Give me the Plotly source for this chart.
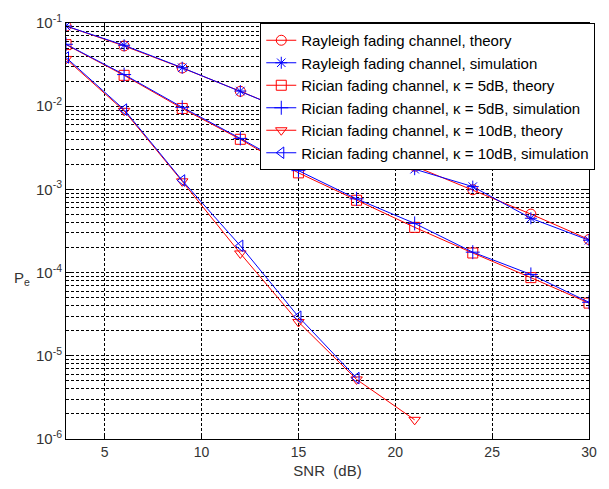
import plotly.graph_objects as go

snr = [3, 6, 9, 12, 15, 18, 21, 24, 27, 30]
snr10_th = [3, 6, 9, 12, 15, 18, 21]
snr10_sim = [3, 6, 9, 12, 15, 18]

ray_th = [0.0918, 0.0530, 0.0288, 0.0151, 0.00773, 0.00392, 0.00190, 0.00099, 0.000505, 0.000250]
ray_sim = [0.0920, 0.0540, 0.0290, 0.0152, 0.00780, 0.00395, 0.00175, 0.00108, 0.000450, 0.000245]
ric5_th = [0.0550, 0.0235, 0.0094, 0.0040, 0.00158, 0.00074, 0.00035, 0.000172, 0.000087, 0.000043]
ric5_sim = [0.0555, 0.0240, 0.0097, 0.0041, 0.00168, 0.00077, 0.00039, 0.000176, 0.000095, 0.000044]
ric10_th = [0.0370, 0.0088, 0.00125, 0.000170, 0.0000255, 0.0000052, 0.0000017]
ric10_sim = [0.0385, 0.0091, 0.00128, 0.000210, 0.0000295, 0.0000054]

names = [
    "Rayleigh fading channel, theory",
    "Rayleigh fading channel, simulation",
    "Rician fading channel, \u03ba = 5dB, theory",
    "Rician fading channel, \u03ba = 5dB, simulation",
    "Rician fading channel, \u03ba = 10dB, theory",
    "Rician fading channel, \u03ba = 10dB, simulation",
]
y_ticks = [1e-6, 1e-5, 1e-4, 1e-3, 1e-2, 1e-1]
y_ticktext = ["10<sup>-6</sup>", "10<sup>-5</sup>", "10<sup>-4</sup>",
              "10<sup>-3</sup>", "10<sup>-2</sup>", "10<sup>-1</sup>"]
x_ticks = [5, 10, 15, 20, 25, 30]

RED = "#ff0000"
BLUE = "#0000ff"

series = [
    (snr, ray_th, RED, "circle-open"),
    (snr, ray_sim, BLUE, "asterisk-open"),
    (snr, ric5_th, RED, "square-open"),
    (snr, ric5_sim, BLUE, "cross-thin-open"),
    (snr10_th, ric10_th, RED, "triangle-down-open"),
    (snr10_sim, ric10_sim, BLUE, "triangle-left-open"),
]

fig = go.Figure()
for (x, y, c, sym), n in zip(series, names):
    fig.add_trace(go.Scatter(
        x=x, y=y, name=n, mode="lines+markers",
        line=dict(color=c, width=1),
        marker=dict(symbol=sym, size=10, color=c, line=dict(color=c, width=1)),
    ))

font = "Liberation Sans, Arial, sans-serif"
grid = dict(showgrid=True, gridcolor="black", griddash="3px,2px", gridwidth=1)
fig.update_layout(
    width=609, height=489,
    margin=dict(l=66, r=12, t=21, b=50),
    paper_bgcolor="white", plot_bgcolor="white",
    font=dict(family=font, size=14, color="#333"),
    showlegend=True,
    legend=dict(
        x=1.012, xanchor="right", y=1, yanchor="top",
        bgcolor="white", bordercolor="black", borderwidth=1,
        font=dict(family=font, size=15, color="black"),
        tracegroupgap=0, itemwidth=30,
    ),
    xaxis=dict(
        range=[3, 30], tickvals=x_ticks,
        **grid,
        showline=True, linecolor="black", linewidth=1, mirror="ticks",
        ticks="inside", ticklen=5, tickcolor="black",
        tickfont=dict(size=14, color="#333"),
        zeroline=False,
        title=dict(text="SNR\u00a0\u00a0(dB)", font=dict(size=15, color="#333"), standoff=6),
    ),
    yaxis=dict(
        type="log", range=[-6, -1],
        tickvals=y_ticks, ticktext=y_ticktext,
        **grid,
        showline=True, linecolor="black", linewidth=1, mirror="ticks",
        ticks="inside", ticklen=5, tickcolor="black",
        tickfont=dict(size=15, color="#333"),
        minor=dict(showgrid=True, gridcolor="black", griddash="3px,2px", gridwidth=1,
                   ticks="inside", ticklen=3, tickcolor="black", dtick="D1"),
        zeroline=False,
    ),
    annotations=[dict(
        text="P<sub>e</sub>", xref="paper", yref="paper", x=0, y=0.385,
        xanchor="right", yanchor="middle", xshift=-34, showarrow=False,
        font=dict(family=font, size=15, color="#333"),
    )],
)

fig.write_html("out.html")
